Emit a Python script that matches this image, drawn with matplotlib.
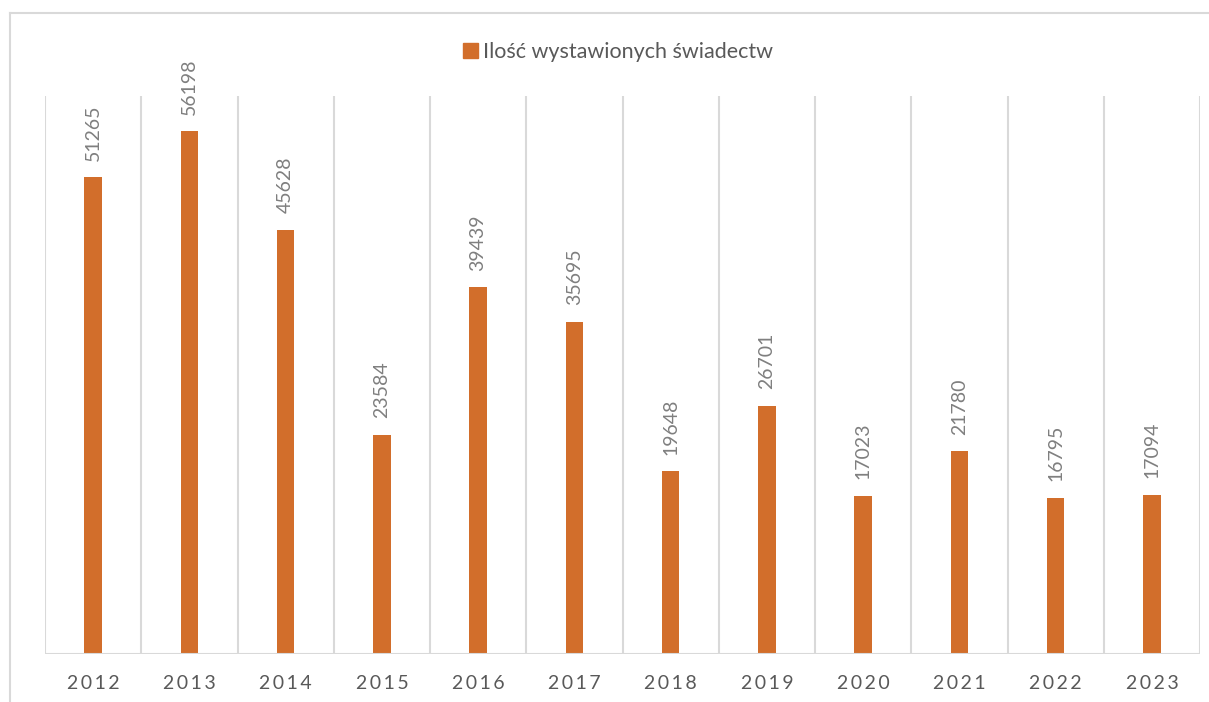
import matplotlib.pyplot as plt
from matplotlib.lines import Line2D
from matplotlib.patches import Patch
import numpy as np

# data to plot
years = ['2012', '2013', '2014', '2015', '2016', '2017',
         '2018', '2019', '2020', '2021', '2022', '2023']
counts = [51265, 56198, 45628, 23584, 39439, 35695,
          19648, 26701, 17023, 21780, 16795, 17094]
series_name = 'Ilość wystawionych świadectw'

plt.rcParams['font.family'] = ['Lato', 'DejaVu Sans']

W, H = 1209, 702
fig = plt.figure(figsize=(W / 100, H / 100), dpi=100)
ax = fig.add_axes([45 / W, 1 - 654 / H, (1200 - 45) / W, (654 - 96) / H])

bar_color = '#D26E2B'
grid_color = '#D9D9D9'

index = np.arange(len(years))
ax.bar(index, counts, 0.18, color=bar_color, zorder=3)

for x, v in zip(index, counts):
    ax.annotate(str(v), (x, v), xytext=(0, 12), textcoords='offset points',
                rotation=90, ha='center', va='bottom', fontsize=14,
                color='#7F7F7F')

ax.set_xlim(-0.5, len(years) - 0.5)
ax.set_ylim(0, 60000)

# vertical gridlines between categories
for b in np.arange(-0.5, len(years), 1.0):
    ax.axvline(b, color=grid_color, lw=1.5, zorder=1)

for s in ax.spines.values():
    s.set_visible(False)
ax.axhline(0, color=grid_color, lw=1.5, zorder=4)

ax.set_yticks([])
ax.set_xticks(index)
ax.set_xticklabels(['\u2009'.join(y) for y in years], fontsize=14, color='#595959')
ax.tick_params(axis='x', length=0, pad=15)

ax.legend(handles=[Patch(color=bar_color, label=series_name)],
          loc='center', bbox_to_anchor=(618 / W, 1 - 52 / H), bbox_transform=fig.transFigure,
          frameon=False, fontsize=15.5, handlelength=0.7, handleheight=0.7,
          handletextpad=0.25, labelcolor='#595959')

# chart frame (left and top edges visible)
fig.add_artist(Line2D([10 / W, 10 / W], [0, 1 - 13 / H], color=grid_color, lw=1.5,
                      transform=fig.transFigure))
fig.add_artist(Line2D([10 / W, 1], [1 - 13 / H, 1 - 13 / H], color=grid_color, lw=1.5,
                      transform=fig.transFigure))

fig.savefig('out.png', dpi=100, facecolor='white')
